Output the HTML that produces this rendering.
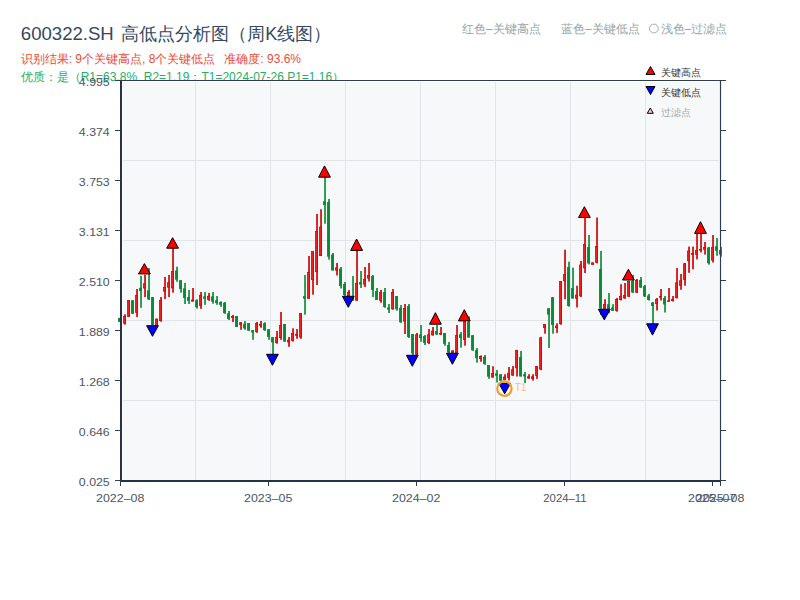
<!DOCTYPE html>
<html><head><meta charset="utf-8"><style>
html,body{margin:0;padding:0;background:#fff;width:800px;height:600px;overflow:hidden}
svg{display:block}
text{font-family:"Liberation Sans",sans-serif}
.ax{font-size:10.3px;fill:#4b5563}
</style></head><body>
<svg width="800" height="600" viewBox="0 0 800 600">
<rect width="800" height="600" fill="#fff"/>
<text x="20.8" y="40" font-size="18" fill="#34495e" textLength="93" lengthAdjust="spacingAndGlyphs">600322.SH</text>
<text x="121.3" y="40" font-size="18" fill="#34495e">高低点分析图（周K线图）</text>
<text x="20.7" y="62.5" font-size="12" fill="#e74c3c">识别结果: 9个关键高点, 8个关键低点</text>
<text x="224.3" y="62.5" font-size="12" fill="#e74c3c">准确度: 93.6%</text>
<text x="20.7" y="80.5" font-size="12" fill="#27ae60">优质：是（R1=63.8%&#160; R2=1.19；T1=2024-07-26 P1=1.16）</text>
<g font-size="12" fill="#95a5a6">
<text x="462" y="33">红色–关键高点</text>
<text x="561" y="33">蓝色–关键低点</text>
<circle cx="653.9" cy="28.5" r="4.4" fill="none" stroke="#95a5a6" stroke-width="0.9"/>
<text x="660.5" y="33">浅色–过滤点</text>
</g>
<rect x="121" y="80.5" width="599.5" height="400.5" fill="#fff"/>
<rect x="123" y="82" width="596" height="398" fill="#f7f8fa"/>
<line x1="195.5" y1="82" x2="195.5" y2="480" stroke="#e1e4e9" stroke-width="1"/>
<line x1="270.5" y1="82" x2="270.5" y2="480" stroke="#e1e4e9" stroke-width="1"/>
<line x1="345.5" y1="82" x2="345.5" y2="480" stroke="#e1e4e9" stroke-width="1"/>
<line x1="420.5" y1="82" x2="420.5" y2="480" stroke="#e1e4e9" stroke-width="1"/>
<line x1="495.5" y1="82" x2="495.5" y2="480" stroke="#e1e4e9" stroke-width="1"/>
<line x1="570.5" y1="82" x2="570.5" y2="480" stroke="#e1e4e9" stroke-width="1"/>
<line x1="645.5" y1="82" x2="645.5" y2="480" stroke="#e1e4e9" stroke-width="1"/>
<line x1="123" y1="160.5" x2="719" y2="160.5" stroke="#e1e4e9" stroke-width="1"/>
<line x1="123" y1="240.5" x2="719" y2="240.5" stroke="#e1e4e9" stroke-width="1"/>
<line x1="123" y1="320.5" x2="719" y2="320.5" stroke="#e1e4e9" stroke-width="1"/>
<line x1="123" y1="400.5" x2="719" y2="400.5" stroke="#e1e4e9" stroke-width="1"/>
<rect x="119.20" y="317.9" width="1.65" height="4.0" fill="#0b8a35"/>
<rect x="118.05" y="317.9" width="2.8" height="4.0" fill="#0b8a35"/>
<rect x="124.20" y="314.3" width="1.65" height="10.3" fill="#d10000"/>
<rect x="123.40" y="316.3" width="2.1" height="6.9" fill="#f21d1d" stroke="#d10000" stroke-width="0.7"/>
<rect x="128.20" y="300.2" width="1.65" height="16.6" fill="#d10000"/>
<rect x="127.40" y="300.5" width="2.1" height="16.0" fill="#f21d1d" stroke="#d10000" stroke-width="0.7"/>
<rect x="132.20" y="300.2" width="1.65" height="13.6" fill="#0b8a35"/>
<rect x="131.05" y="300.2" width="2.8" height="13.6" fill="#0b8a35"/>
<rect x="136.20" y="289.0" width="1.65" height="28.0" fill="#d10000"/>
<rect x="135.40" y="295.6" width="2.1" height="16.8" fill="#f21d1d" stroke="#d10000" stroke-width="0.7"/>
<rect x="140.20" y="275.8" width="1.65" height="32.0" fill="#0b8a35"/>
<rect x="139.05" y="287.8" width="2.8" height="3.2" fill="#0b8a35"/>
<rect x="144.20" y="274.7" width="1.65" height="22.3" fill="#d10000"/>
<rect x="143.40" y="283.7" width="2.1" height="4.3" fill="#f21d1d" stroke="#d10000" stroke-width="0.7"/>
<rect x="148.20" y="268.0" width="1.65" height="32.0" fill="#0b8a35"/>
<rect x="147.05" y="290.3" width="2.8" height="9.1" fill="#0b8a35"/>
<rect x="152.20" y="297.0" width="1.65" height="28.4" fill="#0b8a35"/>
<rect x="151.05" y="297.0" width="2.8" height="28.0" fill="#0b8a35"/>
<rect x="156.20" y="318.7" width="1.65" height="6.8" fill="#d10000"/>
<rect x="155.40" y="319.0" width="2.1" height="6.2" fill="#f21d1d" stroke="#d10000" stroke-width="0.7"/>
<rect x="160.20" y="297.0" width="1.65" height="24.7" fill="#d10000"/>
<rect x="159.40" y="300.3" width="2.1" height="20.4" fill="#f21d1d" stroke="#d10000" stroke-width="0.7"/>
<rect x="164.20" y="277.0" width="1.65" height="22.0" fill="#d10000"/>
<rect x="163.40" y="287.3" width="2.1" height="3.9" fill="#f21d1d" stroke="#d10000" stroke-width="0.7"/>
<rect x="168.20" y="275.0" width="1.65" height="22.0" fill="#d10000"/>
<rect x="167.40" y="282.7" width="2.1" height="4.5" fill="#f21d1d" stroke="#d10000" stroke-width="0.7"/>
<rect x="172.20" y="248.0" width="1.65" height="44.6" fill="#d10000"/>
<rect x="171.40" y="271.3" width="2.1" height="16.7" fill="#f21d1d" stroke="#d10000" stroke-width="0.7"/>
<rect x="176.20" y="266.7" width="1.65" height="15.1" fill="#0b8a35"/>
<rect x="175.05" y="270.5" width="2.8" height="9.2" fill="#0b8a35"/>
<rect x="180.20" y="280.2" width="1.65" height="12.5" fill="#0b8a35"/>
<rect x="179.05" y="280.2" width="2.8" height="8.8" fill="#0b8a35"/>
<rect x="184.20" y="283.0" width="1.65" height="21.0" fill="#0b8a35"/>
<rect x="183.05" y="288.3" width="2.8" height="9.7" fill="#0b8a35"/>
<rect x="188.20" y="290.0" width="1.65" height="14.0" fill="#0b8a35"/>
<rect x="187.05" y="297.0" width="2.8" height="3.8" fill="#0b8a35"/>
<rect x="192.20" y="288.0" width="1.65" height="13.5" fill="#d10000"/>
<rect x="191.40" y="300.0" width="2.1" height="1.2" fill="#f21d1d" stroke="#d10000" stroke-width="0.7"/>
<rect x="196.20" y="299.3" width="1.65" height="9.3" fill="#0b8a35"/>
<rect x="195.05" y="300.2" width="2.8" height="7.0" fill="#0b8a35"/>
<rect x="200.20" y="292.0" width="1.65" height="16.9" fill="#d10000"/>
<rect x="199.40" y="295.5" width="2.1" height="9.9" fill="#f21d1d" stroke="#d10000" stroke-width="0.7"/>
<rect x="204.20" y="292.0" width="1.65" height="12.8" fill="#0b8a35"/>
<rect x="203.05" y="296.4" width="2.8" height="2.3" fill="#0b8a35"/>
<rect x="208.20" y="292.9" width="1.65" height="7.9" fill="#d10000"/>
<rect x="207.40" y="296.3" width="2.1" height="3.3" fill="#f21d1d" stroke="#d10000" stroke-width="0.7"/>
<rect x="212.20" y="292.0" width="1.65" height="11.7" fill="#0b8a35"/>
<rect x="211.05" y="296.4" width="2.8" height="5.2" fill="#0b8a35"/>
<rect x="216.20" y="296.0" width="1.65" height="8.8" fill="#0b8a35"/>
<rect x="215.05" y="300.2" width="2.8" height="2.9" fill="#0b8a35"/>
<rect x="220.20" y="301.3" width="1.65" height="5.6" fill="#0b8a35"/>
<rect x="219.05" y="302.0" width="2.8" height="2.8" fill="#0b8a35"/>
<rect x="224.20" y="302.0" width="1.65" height="11.8" fill="#0b8a35"/>
<rect x="223.05" y="302.7" width="2.8" height="10.5" fill="#0b8a35"/>
<rect x="228.20" y="311.0" width="1.65" height="9.0" fill="#0b8a35"/>
<rect x="227.05" y="313.2" width="2.8" height="5.8" fill="#0b8a35"/>
<rect x="232.20" y="315.0" width="1.65" height="7.0" fill="#d10000"/>
<rect x="231.40" y="316.4" width="2.1" height="1.1" fill="#f21d1d" stroke="#d10000" stroke-width="0.7"/>
<rect x="236.20" y="316.0" width="1.65" height="11.0" fill="#0b8a35"/>
<rect x="235.05" y="316.0" width="2.8" height="11.0" fill="#0b8a35"/>
<rect x="240.20" y="322.0" width="1.65" height="7.8" fill="#d10000"/>
<rect x="239.40" y="322.8" width="2.1" height="1.8" fill="#f21d1d" stroke="#d10000" stroke-width="0.7"/>
<rect x="244.20" y="321.0" width="1.65" height="8.8" fill="#0b8a35"/>
<rect x="243.05" y="323.7" width="2.8" height="4.7" fill="#0b8a35"/>
<rect x="248.20" y="323.0" width="1.65" height="7.7" fill="#0b8a35"/>
<rect x="247.05" y="323.0" width="2.8" height="7.7" fill="#0b8a35"/>
<rect x="252.20" y="330.0" width="1.65" height="9.8" fill="#0b8a35"/>
<rect x="251.05" y="330.2" width="2.8" height="2.3" fill="#0b8a35"/>
<rect x="256.20" y="322.0" width="1.65" height="10.8" fill="#d10000"/>
<rect x="255.40" y="323.5" width="2.1" height="8.1" fill="#f21d1d" stroke="#d10000" stroke-width="0.7"/>
<rect x="260.20" y="321.0" width="1.65" height="6.8" fill="#d10000"/>
<rect x="259.40" y="324.3" width="2.1" height="1.2" fill="#f21d1d" stroke="#d10000" stroke-width="0.7"/>
<rect x="264.20" y="322.3" width="1.65" height="8.5" fill="#0b8a35"/>
<rect x="263.05" y="323.2" width="2.8" height="7.0" fill="#0b8a35"/>
<rect x="268.20" y="329.3" width="1.65" height="10.5" fill="#0b8a35"/>
<rect x="267.05" y="329.3" width="2.8" height="7.6" fill="#0b8a35"/>
<rect x="272.20" y="337.2" width="1.65" height="16.8" fill="#0b8a35"/>
<rect x="271.05" y="337.2" width="2.8" height="5.2" fill="#0b8a35"/>
<rect x="276.20" y="331.0" width="1.65" height="12.7" fill="#d10000"/>
<rect x="275.40" y="337.3" width="2.1" height="5.4" fill="#f21d1d" stroke="#d10000" stroke-width="0.7"/>
<rect x="280.20" y="312.0" width="1.65" height="27.8" fill="#d10000"/>
<rect x="279.40" y="325.4" width="2.1" height="12.3" fill="#f21d1d" stroke="#d10000" stroke-width="0.7"/>
<rect x="284.20" y="324.0" width="1.65" height="17.6" fill="#0b8a35"/>
<rect x="283.05" y="324.0" width="2.8" height="17.6" fill="#0b8a35"/>
<rect x="288.20" y="337.0" width="1.65" height="9.8" fill="#d10000"/>
<rect x="287.40" y="340.1" width="2.1" height="1.9" fill="#f21d1d" stroke="#d10000" stroke-width="0.7"/>
<rect x="292.20" y="328.3" width="1.65" height="13.3" fill="#d10000"/>
<rect x="291.40" y="333.5" width="2.1" height="7.1" fill="#f21d1d" stroke="#d10000" stroke-width="0.7"/>
<rect x="296.20" y="329.0" width="1.65" height="9.8" fill="#d10000"/>
<rect x="295.40" y="334.2" width="2.1" height="1.1" fill="#f21d1d" stroke="#d10000" stroke-width="0.7"/>
<rect x="300.20" y="313.0" width="1.65" height="25.8" fill="#d10000"/>
<rect x="299.40" y="313.5" width="2.1" height="23.6" fill="#f21d1d" stroke="#d10000" stroke-width="0.7"/>
<rect x="304.20" y="275.0" width="1.65" height="39.7" fill="#0b8a35"/>
<rect x="303.05" y="296.0" width="2.8" height="2.7" fill="#0b8a35"/>
<rect x="308.20" y="256.0" width="1.65" height="42.7" fill="#d10000"/>
<rect x="307.40" y="272.3" width="2.1" height="26.1" fill="#f21d1d" stroke="#d10000" stroke-width="0.7"/>
<rect x="312.20" y="251.3" width="1.65" height="43.4" fill="#d10000"/>
<rect x="311.40" y="251.6" width="2.1" height="28.1" fill="#f21d1d" stroke="#d10000" stroke-width="0.7"/>
<rect x="316.20" y="214.0" width="1.65" height="71.0" fill="#d10000"/>
<rect x="315.40" y="231.5" width="2.1" height="40.2" fill="#f21d1d" stroke="#d10000" stroke-width="0.7"/>
<rect x="320.20" y="209.2" width="1.65" height="46.8" fill="#d10000"/>
<rect x="319.40" y="227.0" width="2.1" height="28.7" fill="#f21d1d" stroke="#d10000" stroke-width="0.7"/>
<rect x="324.20" y="176.5" width="1.65" height="47.2" fill="#0b8a35"/>
<rect x="323.05" y="201.2" width="2.8" height="3.8" fill="#0b8a35"/>
<rect x="328.20" y="199.0" width="1.65" height="60.7" fill="#0b8a35"/>
<rect x="327.05" y="202.0" width="2.8" height="54.7" fill="#0b8a35"/>
<rect x="332.20" y="253.0" width="1.65" height="17.5" fill="#0b8a35"/>
<rect x="331.05" y="254.5" width="2.8" height="16.0" fill="#0b8a35"/>
<rect x="336.20" y="263.0" width="1.65" height="12.5" fill="#d10000"/>
<rect x="335.40" y="267.8" width="2.1" height="2.4" fill="#f21d1d" stroke="#d10000" stroke-width="0.7"/>
<rect x="340.20" y="267.0" width="1.65" height="21.5" fill="#0b8a35"/>
<rect x="339.05" y="268.5" width="2.8" height="17.5" fill="#0b8a35"/>
<rect x="344.20" y="282.0" width="1.65" height="14.5" fill="#0b8a35"/>
<rect x="343.05" y="284.0" width="2.8" height="11.0" fill="#0b8a35"/>
<rect x="348.20" y="290.0" width="1.65" height="7.0" fill="#d10000"/>
<rect x="347.40" y="292.3" width="2.1" height="3.4" fill="#f21d1d" stroke="#d10000" stroke-width="0.7"/>
<rect x="352.20" y="276.0" width="1.65" height="25.0" fill="#0b8a35"/>
<rect x="351.05" y="297.0" width="2.8" height="3.0" fill="#0b8a35"/>
<rect x="356.20" y="250.7" width="1.65" height="50.0" fill="#d10000"/>
<rect x="355.40" y="283.3" width="2.1" height="16.9" fill="#f21d1d" stroke="#d10000" stroke-width="0.7"/>
<rect x="360.20" y="271.0" width="1.65" height="17.0" fill="#0b8a35"/>
<rect x="359.05" y="282.0" width="2.8" height="2.5" fill="#0b8a35"/>
<rect x="364.20" y="267.0" width="1.65" height="20.0" fill="#d10000"/>
<rect x="363.40" y="279.3" width="2.1" height="4.9" fill="#f21d1d" stroke="#d10000" stroke-width="0.7"/>
<rect x="368.20" y="263.0" width="1.65" height="18.5" fill="#d10000"/>
<rect x="367.40" y="275.3" width="2.1" height="2.9" fill="#f21d1d" stroke="#d10000" stroke-width="0.7"/>
<rect x="372.20" y="275.0" width="1.65" height="22.0" fill="#0b8a35"/>
<rect x="371.05" y="276.0" width="2.8" height="14.0" fill="#0b8a35"/>
<rect x="376.20" y="288.0" width="1.65" height="12.0" fill="#0b8a35"/>
<rect x="375.05" y="291.0" width="2.8" height="9.0" fill="#0b8a35"/>
<rect x="380.20" y="290.0" width="1.65" height="12.7" fill="#d10000"/>
<rect x="379.40" y="292.3" width="2.1" height="8.2" fill="#f21d1d" stroke="#d10000" stroke-width="0.7"/>
<rect x="384.20" y="288.0" width="1.65" height="19.8" fill="#0b8a35"/>
<rect x="383.05" y="292.0" width="2.8" height="15.0" fill="#0b8a35"/>
<rect x="388.20" y="304.0" width="1.65" height="9.0" fill="#0b8a35"/>
<rect x="387.05" y="307.4" width="2.8" height="2.3" fill="#0b8a35"/>
<rect x="392.20" y="289.0" width="1.65" height="20.7" fill="#d10000"/>
<rect x="391.40" y="292.3" width="2.1" height="16.6" fill="#f21d1d" stroke="#d10000" stroke-width="0.7"/>
<rect x="396.20" y="296.0" width="1.65" height="14.6" fill="#0b8a35"/>
<rect x="395.05" y="296.0" width="2.8" height="13.2" fill="#0b8a35"/>
<rect x="400.20" y="305.0" width="1.65" height="17.8" fill="#0b8a35"/>
<rect x="399.05" y="307.8" width="2.8" height="14.5" fill="#0b8a35"/>
<rect x="404.20" y="304.0" width="1.65" height="30.0" fill="#d10000"/>
<rect x="403.40" y="308.6" width="2.1" height="12.5" fill="#f21d1d" stroke="#d10000" stroke-width="0.7"/>
<rect x="408.20" y="304.0" width="1.65" height="34.0" fill="#0b8a35"/>
<rect x="407.05" y="306.0" width="2.8" height="31.0" fill="#0b8a35"/>
<rect x="412.20" y="334.0" width="1.65" height="21.0" fill="#0b8a35"/>
<rect x="411.05" y="334.0" width="2.8" height="19.5" fill="#0b8a35"/>
<rect x="416.20" y="333.0" width="1.65" height="22.0" fill="#d10000"/>
<rect x="415.40" y="334.8" width="2.1" height="19.4" fill="#f21d1d" stroke="#d10000" stroke-width="0.7"/>
<rect x="420.20" y="325.0" width="1.65" height="16.8" fill="#0b8a35"/>
<rect x="419.05" y="334.5" width="2.8" height="3.5" fill="#0b8a35"/>
<rect x="424.20" y="335.0" width="1.65" height="10.0" fill="#0b8a35"/>
<rect x="423.05" y="336.0" width="2.8" height="7.0" fill="#0b8a35"/>
<rect x="428.20" y="329.0" width="1.65" height="15.0" fill="#d10000"/>
<rect x="427.40" y="334.8" width="2.1" height="7.9" fill="#f21d1d" stroke="#d10000" stroke-width="0.7"/>
<rect x="432.20" y="327.0" width="1.65" height="8.6" fill="#d10000"/>
<rect x="431.40" y="331.1" width="2.1" height="3.9" fill="#f21d1d" stroke="#d10000" stroke-width="0.7"/>
<rect x="436.20" y="324.8" width="1.65" height="10.1" fill="#0b8a35"/>
<rect x="435.05" y="331.0" width="2.8" height="3.5" fill="#0b8a35"/>
<rect x="440.20" y="327.0" width="1.65" height="7.9" fill="#d10000"/>
<rect x="439.40" y="333.3" width="2.1" height="0.9" fill="#f21d1d" stroke="#d10000" stroke-width="0.7"/>
<rect x="444.20" y="333.0" width="1.65" height="12.8" fill="#0b8a35"/>
<rect x="443.05" y="333.0" width="2.8" height="10.9" fill="#0b8a35"/>
<rect x="448.20" y="342.0" width="1.65" height="11.0" fill="#0b8a35"/>
<rect x="447.05" y="345.0" width="2.8" height="7.5" fill="#0b8a35"/>
<rect x="452.20" y="350.5" width="1.65" height="2.5" fill="#d10000"/>
<rect x="451.40" y="350.8" width="2.1" height="1.9" fill="#f21d1d" stroke="#d10000" stroke-width="0.7"/>
<rect x="456.20" y="325.0" width="1.65" height="28.0" fill="#d10000"/>
<rect x="455.40" y="335.6" width="2.1" height="17.1" fill="#f21d1d" stroke="#d10000" stroke-width="0.7"/>
<rect x="460.20" y="332.0" width="1.65" height="15.6" fill="#0b8a35"/>
<rect x="459.05" y="334.3" width="2.8" height="3.7" fill="#0b8a35"/>
<rect x="464.20" y="321.4" width="1.65" height="24.3" fill="#d10000"/>
<rect x="463.40" y="321.7" width="2.1" height="17.8" fill="#f21d1d" stroke="#d10000" stroke-width="0.7"/>
<rect x="468.20" y="316.4" width="1.65" height="21.1" fill="#0b8a35"/>
<rect x="467.05" y="321.9" width="2.8" height="15.6" fill="#0b8a35"/>
<rect x="472.20" y="335.2" width="1.65" height="15.6" fill="#0b8a35"/>
<rect x="471.05" y="335.2" width="2.8" height="15.1" fill="#0b8a35"/>
<rect x="476.20" y="348.0" width="1.65" height="14.7" fill="#0b8a35"/>
<rect x="475.05" y="349.9" width="2.8" height="8.2" fill="#0b8a35"/>
<rect x="480.20" y="355.4" width="1.65" height="6.4" fill="#d10000"/>
<rect x="479.40" y="356.6" width="2.1" height="2.1" fill="#f21d1d" stroke="#d10000" stroke-width="0.7"/>
<rect x="484.20" y="355.0" width="1.65" height="9.6" fill="#0b8a35"/>
<rect x="483.05" y="356.7" width="2.8" height="7.5" fill="#0b8a35"/>
<rect x="488.20" y="365.0" width="1.65" height="13.8" fill="#0b8a35"/>
<rect x="487.05" y="365.0" width="2.8" height="11.7" fill="#0b8a35"/>
<rect x="492.20" y="366.2" width="1.65" height="11.2" fill="#d10000"/>
<rect x="491.40" y="373.6" width="2.1" height="3.6" fill="#f21d1d" stroke="#d10000" stroke-width="0.7"/>
<rect x="496.20" y="370.0" width="1.65" height="12.5" fill="#0b8a35"/>
<rect x="495.05" y="373.3" width="2.8" height="2.5" fill="#0b8a35"/>
<rect x="500.20" y="374.2" width="1.65" height="6.6" fill="#0b8a35"/>
<rect x="499.05" y="374.2" width="2.8" height="6.6" fill="#0b8a35"/>
<rect x="504.20" y="374.2" width="1.65" height="5.8" fill="#d10000"/>
<rect x="503.40" y="377.0" width="2.1" height="2.7" fill="#f21d1d" stroke="#d10000" stroke-width="0.7"/>
<rect x="508.20" y="367.0" width="1.65" height="13.5" fill="#d10000"/>
<rect x="507.40" y="373.3" width="2.1" height="4.4" fill="#f21d1d" stroke="#d10000" stroke-width="0.7"/>
<rect x="512.20" y="366.0" width="1.65" height="9.8" fill="#d10000"/>
<rect x="511.40" y="369.7" width="2.1" height="5.4" fill="#f21d1d" stroke="#d10000" stroke-width="0.7"/>
<rect x="516.20" y="350.0" width="1.65" height="26.5" fill="#d10000"/>
<rect x="515.40" y="350.3" width="2.1" height="17.6" fill="#f21d1d" stroke="#d10000" stroke-width="0.7"/>
<rect x="520.20" y="351.0" width="1.65" height="25.5" fill="#0b8a35"/>
<rect x="519.05" y="357.0" width="2.8" height="19.5" fill="#0b8a35"/>
<rect x="524.20" y="372.0" width="1.65" height="11.0" fill="#0b8a35"/>
<rect x="523.05" y="374.2" width="2.8" height="2.2" fill="#0b8a35"/>
<rect x="528.20" y="374.2" width="1.65" height="4.5" fill="#d10000"/>
<rect x="527.40" y="376.8" width="2.1" height="1.3" fill="#f21d1d" stroke="#d10000" stroke-width="0.7"/>
<rect x="532.20" y="374.2" width="1.65" height="6.4" fill="#d10000"/>
<rect x="531.40" y="376.8" width="2.1" height="1.6" fill="#f21d1d" stroke="#d10000" stroke-width="0.7"/>
<rect x="536.20" y="366.2" width="1.65" height="12.7" fill="#d10000"/>
<rect x="535.40" y="366.5" width="2.1" height="8.9" fill="#f21d1d" stroke="#d10000" stroke-width="0.7"/>
<rect x="540.20" y="336.8" width="1.65" height="33.4" fill="#d10000"/>
<rect x="539.40" y="337.9" width="2.1" height="31.2" fill="#f21d1d" stroke="#d10000" stroke-width="0.7"/>
<rect x="544.20" y="324.1" width="1.65" height="9.6" fill="#d10000"/>
<rect x="543.40" y="324.4" width="2.1" height="3.3" fill="#f21d1d" stroke="#d10000" stroke-width="0.7"/>
<rect x="548.20" y="308.2" width="1.65" height="39.8" fill="#0b8a35"/>
<rect x="547.05" y="308.2" width="2.8" height="6.4" fill="#0b8a35"/>
<rect x="552.20" y="297.1" width="1.65" height="36.6" fill="#0b8a35"/>
<rect x="551.05" y="297.1" width="2.8" height="27.9" fill="#0b8a35"/>
<rect x="556.20" y="323.3" width="1.65" height="9.6" fill="#d10000"/>
<rect x="555.40" y="326.0" width="2.1" height="1.7" fill="#f21d1d" stroke="#d10000" stroke-width="0.7"/>
<rect x="560.20" y="281.0" width="1.65" height="43.7" fill="#d10000"/>
<rect x="559.40" y="281.5" width="2.1" height="42.2" fill="#f21d1d" stroke="#d10000" stroke-width="0.7"/>
<rect x="564.20" y="249.7" width="1.65" height="49.5" fill="#d10000"/>
<rect x="563.40" y="274.5" width="2.1" height="6.4" fill="#f21d1d" stroke="#d10000" stroke-width="0.7"/>
<rect x="568.20" y="261.7" width="1.65" height="45.0" fill="#0b8a35"/>
<rect x="567.05" y="267.0" width="2.8" height="39.0" fill="#0b8a35"/>
<rect x="572.20" y="267.7" width="1.65" height="30.8" fill="#0b8a35"/>
<rect x="571.05" y="288.0" width="2.8" height="10.5" fill="#0b8a35"/>
<rect x="576.20" y="285.7" width="1.65" height="21.8" fill="#d10000"/>
<rect x="575.40" y="295.0" width="2.1" height="3.2" fill="#f21d1d" stroke="#d10000" stroke-width="0.7"/>
<rect x="580.20" y="261.0" width="1.65" height="36.0" fill="#d10000"/>
<rect x="579.40" y="265.0" width="2.1" height="30.9" fill="#f21d1d" stroke="#d10000" stroke-width="0.7"/>
<rect x="584.20" y="218.0" width="1.65" height="55.0" fill="#d10000"/>
<rect x="583.40" y="244.6" width="2.1" height="23.3" fill="#f21d1d" stroke="#d10000" stroke-width="0.7"/>
<rect x="588.20" y="235.0" width="1.65" height="29.4" fill="#0b8a35"/>
<rect x="587.05" y="247.0" width="2.8" height="16.4" fill="#0b8a35"/>
<rect x="592.20" y="262.5" width="1.65" height="2.3" fill="#d10000"/>
<rect x="591.40" y="262.8" width="2.1" height="1.7" fill="#f21d1d" stroke="#d10000" stroke-width="0.7"/>
<rect x="596.20" y="217.5" width="1.65" height="45.9" fill="#d10000"/>
<rect x="595.40" y="246.3" width="2.1" height="15.9" fill="#f21d1d" stroke="#d10000" stroke-width="0.7"/>
<rect x="600.20" y="251.0" width="1.65" height="64.0" fill="#0b8a35"/>
<rect x="599.05" y="269.0" width="2.8" height="39.5" fill="#0b8a35"/>
<rect x="604.20" y="299.2" width="1.65" height="10.0" fill="#d10000"/>
<rect x="603.40" y="304.5" width="2.1" height="4.4" fill="#f21d1d" stroke="#d10000" stroke-width="0.7"/>
<rect x="608.20" y="293.0" width="1.65" height="20.3" fill="#0b8a35"/>
<rect x="607.05" y="304.2" width="2.8" height="5.0" fill="#0b8a35"/>
<rect x="612.20" y="304.2" width="1.65" height="6.6" fill="#0b8a35"/>
<rect x="611.05" y="307.5" width="2.8" height="3.3" fill="#0b8a35"/>
<rect x="616.20" y="298.0" width="1.65" height="13.7" fill="#d10000"/>
<rect x="615.40" y="299.5" width="2.1" height="11.0" fill="#f21d1d" stroke="#d10000" stroke-width="0.7"/>
<rect x="620.20" y="284.2" width="1.65" height="16.2" fill="#d10000"/>
<rect x="619.40" y="296.6" width="2.1" height="3.1" fill="#f21d1d" stroke="#d10000" stroke-width="0.7"/>
<rect x="624.20" y="283.0" width="1.65" height="15.8" fill="#d10000"/>
<rect x="623.40" y="295.3" width="2.1" height="2.7" fill="#f21d1d" stroke="#d10000" stroke-width="0.7"/>
<rect x="628.20" y="280.8" width="1.65" height="16.2" fill="#d10000"/>
<rect x="627.40" y="281.3" width="2.1" height="14.9" fill="#f21d1d" stroke="#d10000" stroke-width="0.7"/>
<rect x="632.20" y="275.0" width="1.65" height="18.0" fill="#0b8a35"/>
<rect x="631.05" y="281.0" width="2.8" height="11.5" fill="#0b8a35"/>
<rect x="636.20" y="279.0" width="1.65" height="14.0" fill="#d10000"/>
<rect x="635.40" y="280.3" width="2.1" height="11.9" fill="#f21d1d" stroke="#d10000" stroke-width="0.7"/>
<rect x="640.20" y="277.0" width="1.65" height="11.0" fill="#0b8a35"/>
<rect x="639.05" y="280.0" width="2.8" height="7.5" fill="#0b8a35"/>
<rect x="644.20" y="285.0" width="1.65" height="12.0" fill="#0b8a35"/>
<rect x="643.05" y="286.0" width="2.8" height="10.5" fill="#0b8a35"/>
<rect x="648.20" y="294.0" width="1.65" height="6.5" fill="#0b8a35"/>
<rect x="647.05" y="295.5" width="2.8" height="4.5" fill="#0b8a35"/>
<rect x="652.20" y="302.0" width="1.65" height="22.0" fill="#0b8a35"/>
<rect x="651.05" y="302.5" width="2.8" height="3.5" fill="#0b8a35"/>
<rect x="656.20" y="298.0" width="1.65" height="12.5" fill="#d10000"/>
<rect x="655.40" y="299.3" width="2.1" height="4.4" fill="#f21d1d" stroke="#d10000" stroke-width="0.7"/>
<rect x="660.20" y="289.0" width="1.65" height="11.5" fill="#d10000"/>
<rect x="659.40" y="296.3" width="2.1" height="0.9" fill="#f21d1d" stroke="#d10000" stroke-width="0.7"/>
<rect x="664.20" y="296.0" width="1.65" height="16.5" fill="#0b8a35"/>
<rect x="663.05" y="298.0" width="2.8" height="6.5" fill="#0b8a35"/>
<rect x="668.20" y="288.0" width="1.65" height="13.5" fill="#d10000"/>
<rect x="667.40" y="300.8" width="2.1" height="0.6" fill="#f21d1d" stroke="#d10000" stroke-width="0.7"/>
<rect x="672.20" y="296.0" width="1.65" height="5.5" fill="#d10000"/>
<rect x="671.40" y="299.3" width="2.1" height="1.4" fill="#f21d1d" stroke="#d10000" stroke-width="0.7"/>
<rect x="676.20" y="268.0" width="1.65" height="30.5" fill="#d10000"/>
<rect x="675.40" y="282.8" width="2.1" height="14.9" fill="#f21d1d" stroke="#d10000" stroke-width="0.7"/>
<rect x="680.20" y="274.0" width="1.65" height="15.8" fill="#d10000"/>
<rect x="679.40" y="280.7" width="2.1" height="4.7" fill="#f21d1d" stroke="#d10000" stroke-width="0.7"/>
<rect x="684.20" y="263.0" width="1.65" height="22.7" fill="#d10000"/>
<rect x="683.40" y="263.8" width="2.1" height="15.7" fill="#f21d1d" stroke="#d10000" stroke-width="0.7"/>
<rect x="688.20" y="246.6" width="1.65" height="26.2" fill="#d10000"/>
<rect x="687.40" y="251.0" width="2.1" height="9.9" fill="#f21d1d" stroke="#d10000" stroke-width="0.7"/>
<rect x="692.20" y="246.6" width="1.65" height="22.7" fill="#d10000"/>
<rect x="691.40" y="253.3" width="2.1" height="1.2" fill="#f21d1d" stroke="#d10000" stroke-width="0.7"/>
<rect x="696.20" y="233.8" width="1.65" height="25.6" fill="#d10000"/>
<rect x="695.40" y="250.3" width="2.1" height="4.2" fill="#f21d1d" stroke="#d10000" stroke-width="0.7"/>
<rect x="700.20" y="233.8" width="1.65" height="18.7" fill="#d10000"/>
<rect x="699.40" y="249.5" width="2.1" height="0.6" fill="#f21d1d" stroke="#d10000" stroke-width="0.7"/>
<rect x="704.20" y="242.0" width="1.65" height="12.6" fill="#d10000"/>
<rect x="703.40" y="247.3" width="2.1" height="2.0" fill="#f21d1d" stroke="#d10000" stroke-width="0.7"/>
<rect x="708.20" y="247.0" width="1.65" height="17.6" fill="#0b8a35"/>
<rect x="707.05" y="247.5" width="2.8" height="15.8" fill="#0b8a35"/>
<rect x="712.20" y="235.0" width="1.65" height="27.5" fill="#d10000"/>
<rect x="711.40" y="247.3" width="2.1" height="12.8" fill="#f21d1d" stroke="#d10000" stroke-width="0.7"/>
<rect x="716.20" y="238.0" width="1.65" height="17.8" fill="#0b8a35"/>
<rect x="715.05" y="246.2" width="2.8" height="4.6" fill="#0b8a35"/>
<rect x="720.20" y="247.0" width="1.65" height="9.7" fill="#0b8a35"/>
<rect x="719.05" y="250.0" width="2.8" height="4.6" fill="#0b8a35"/>
<path d="M144.4 263.6 L150.3 273.9 L138.5 273.9 Z" fill="#ff0000" stroke="#000" stroke-width="1" stroke-linejoin="miter"/>
<path d="M172.6 237.7 L178.5 248.2 L166.7 248.2 Z" fill="#ff0000" stroke="#000" stroke-width="1" stroke-linejoin="miter"/>
<path d="M324.5 165.9 L330.4 177.2 L318.6 177.2 Z" fill="#ff0000" stroke="#000" stroke-width="1" stroke-linejoin="miter"/>
<path d="M356.6 239.0 L362.5 250.4 L350.7 250.4 Z" fill="#ff0000" stroke="#000" stroke-width="1" stroke-linejoin="miter"/>
<path d="M435.4 312.7 L441.3 324.2 L429.5 324.2 Z" fill="#ff0000" stroke="#000" stroke-width="1" stroke-linejoin="miter"/>
<path d="M464.3 309.7 L470.2 320.9 L458.4 320.9 Z" fill="#ff0000" stroke="#000" stroke-width="1" stroke-linejoin="miter"/>
<path d="M584.4 206.7 L590.3 217.5 L578.5 217.5 Z" fill="#ff0000" stroke="#000" stroke-width="1" stroke-linejoin="miter"/>
<path d="M628.4 269.3 L634.3 280.0 L622.5 280.0 Z" fill="#ff0000" stroke="#000" stroke-width="1" stroke-linejoin="miter"/>
<path d="M700.5 221.7 L706.4 233.4 L694.6 233.4 Z" fill="#ff0000" stroke="#000" stroke-width="1" stroke-linejoin="miter"/>
<path d="M146.6 325.7 L158.4 325.7 L152.5 336.3 Z" fill="#0000ff" stroke="#000" stroke-width="1" stroke-linejoin="miter"/>
<path d="M266.5 354.3 L278.3 354.3 L272.4 365.3 Z" fill="#0000ff" stroke="#000" stroke-width="1" stroke-linejoin="miter"/>
<path d="M342.4 296.3 L354.2 296.3 L348.3 307.3 Z" fill="#0000ff" stroke="#000" stroke-width="1" stroke-linejoin="miter"/>
<path d="M406.4 355.3 L418.2 355.3 L412.3 366.3 Z" fill="#0000ff" stroke="#000" stroke-width="1" stroke-linejoin="miter"/>
<path d="M446.5 353.3 L458.3 353.3 L452.4 364.3 Z" fill="#0000ff" stroke="#000" stroke-width="1" stroke-linejoin="miter"/>
<path d="M498.8 383.3 L510.6 383.3 L504.7 393.8 Z" fill="#0000ff" stroke="#000" stroke-width="1" stroke-linejoin="miter"/>
<path d="M598.4 309.3 L610.2 309.3 L604.3 319.9 Z" fill="#0000ff" stroke="#000" stroke-width="1" stroke-linejoin="miter"/>
<path d="M646.6 323.8 L658.4 323.8 L652.5 335.1 Z" fill="#0000ff" stroke="#000" stroke-width="1" stroke-linejoin="miter"/>
<circle cx="504.4" cy="388.6" r="7.2" fill="none" stroke="#f0a020" stroke-width="2.2"/>
<text x="515" y="391.2" font-size="11.5" fill="#f7c06e" textLength="11.3" lengthAdjust="spacingAndGlyphs">T1</text>
<line x1="121" y1="80" x2="121" y2="481.5" stroke="#22334a" stroke-width="2"/>
<line x1="120" y1="481" x2="721" y2="481" stroke="#22334a" stroke-width="2"/>
<line x1="720.5" y1="80" x2="720.5" y2="481" stroke="#2c3e50" stroke-width="1.2"/>
<line x1="115" y1="80.5" x2="726" y2="80.5" stroke="#2c3e50" stroke-width="1"/>
<line x1="115" y1="80.5" x2="121" y2="80.5" stroke="#2c3e50" stroke-width="1"/>
<line x1="720" y1="80.5" x2="726" y2="80.5" stroke="#2c3e50" stroke-width="1"/>
<text x="78.85" y="86.0" class="ax" textLength="30.9" lengthAdjust="spacingAndGlyphs">4.995</text>
<line x1="115" y1="130.5" x2="121" y2="130.5" stroke="#2c3e50" stroke-width="1"/>
<line x1="720" y1="130.5" x2="726" y2="130.5" stroke="#2c3e50" stroke-width="1"/>
<text x="78.85" y="136.0" class="ax" textLength="30.9" lengthAdjust="spacingAndGlyphs">4.374</text>
<line x1="115" y1="180.5" x2="121" y2="180.5" stroke="#2c3e50" stroke-width="1"/>
<line x1="720" y1="180.5" x2="726" y2="180.5" stroke="#2c3e50" stroke-width="1"/>
<text x="78.85" y="186.0" class="ax" textLength="30.9" lengthAdjust="spacingAndGlyphs">3.753</text>
<line x1="115" y1="230.5" x2="121" y2="230.5" stroke="#2c3e50" stroke-width="1"/>
<line x1="720" y1="230.5" x2="726" y2="230.5" stroke="#2c3e50" stroke-width="1"/>
<text x="78.85" y="236.0" class="ax" textLength="30.9" lengthAdjust="spacingAndGlyphs">3.131</text>
<line x1="115" y1="280.5" x2="121" y2="280.5" stroke="#2c3e50" stroke-width="1"/>
<line x1="720" y1="280.5" x2="726" y2="280.5" stroke="#2c3e50" stroke-width="1"/>
<text x="78.85" y="286.0" class="ax" textLength="30.9" lengthAdjust="spacingAndGlyphs">2.510</text>
<line x1="115" y1="330.5" x2="121" y2="330.5" stroke="#2c3e50" stroke-width="1"/>
<line x1="720" y1="330.5" x2="726" y2="330.5" stroke="#2c3e50" stroke-width="1"/>
<text x="78.85" y="336.0" class="ax" textLength="30.9" lengthAdjust="spacingAndGlyphs">1.889</text>
<line x1="115" y1="380.5" x2="121" y2="380.5" stroke="#2c3e50" stroke-width="1"/>
<line x1="720" y1="380.5" x2="726" y2="380.5" stroke="#2c3e50" stroke-width="1"/>
<text x="78.85" y="386.0" class="ax" textLength="30.9" lengthAdjust="spacingAndGlyphs">1.268</text>
<line x1="115" y1="430.5" x2="121" y2="430.5" stroke="#2c3e50" stroke-width="1"/>
<line x1="720" y1="430.5" x2="726" y2="430.5" stroke="#2c3e50" stroke-width="1"/>
<text x="78.85" y="436.0" class="ax" textLength="30.9" lengthAdjust="spacingAndGlyphs">0.646</text>
<line x1="115" y1="480.5" x2="121" y2="480.5" stroke="#2c3e50" stroke-width="1"/>
<line x1="720" y1="480.5" x2="726" y2="480.5" stroke="#2c3e50" stroke-width="1"/>
<text x="78.85" y="486.0" class="ax" textLength="30.9" lengthAdjust="spacingAndGlyphs">0.025</text>
<line x1="120.5" y1="481" x2="120.5" y2="486" stroke="#2c3e50" stroke-width="1"/>
<text x="96.1" y="501.7" class="ax" textLength="48.2" lengthAdjust="spacingAndGlyphs">2022–08</text>
<line x1="268.5" y1="481" x2="268.5" y2="486" stroke="#2c3e50" stroke-width="1"/>
<text x="244.1" y="501.7" class="ax" textLength="48.2" lengthAdjust="spacingAndGlyphs">2023–05</text>
<line x1="416.5" y1="481" x2="416.5" y2="486" stroke="#2c3e50" stroke-width="1"/>
<text x="392.1" y="501.7" class="ax" textLength="48.2" lengthAdjust="spacingAndGlyphs">2024–02</text>
<line x1="564.5" y1="481" x2="564.5" y2="486" stroke="#2c3e50" stroke-width="1"/>
<text x="543.3" y="501.7" class="ax" textLength="43.3" lengthAdjust="spacingAndGlyphs">2024–11</text>
<line x1="712.5" y1="481" x2="712.5" y2="486" stroke="#2c3e50" stroke-width="1"/>
<text x="688.1" y="501.7" class="ax" textLength="48.2" lengthAdjust="spacingAndGlyphs">2025–07</text>
<line x1="720.5" y1="481" x2="720.5" y2="486" stroke="#2c3e50" stroke-width="1"/>
<text x="696.1" y="501.7" class="ax" textLength="48.2" lengthAdjust="spacingAndGlyphs">2025–08</text>
<path d="M650.5 66.5 L655 74.5 L646 74.5 Z" fill="#ff0000" stroke="#000" stroke-width="1"/>
<text x="660.5" y="76" font-size="10" fill="#333">关键高点</text>
<path d="M646 86.5 L655 86.5 L650.5 94.5 Z" fill="#0000ff" stroke="#000" stroke-width="1"/>
<text x="660.5" y="96" font-size="10" fill="#333">关键低点</text>
<path d="M650.3 108 L653.3 113.3 L647.3 113.3 Z" fill="#f7c9c9" stroke="#000" stroke-width="1"/>
<text x="660.5" y="116" font-size="10" fill="#aaa">过滤点</text>
</svg>
</body></html>
